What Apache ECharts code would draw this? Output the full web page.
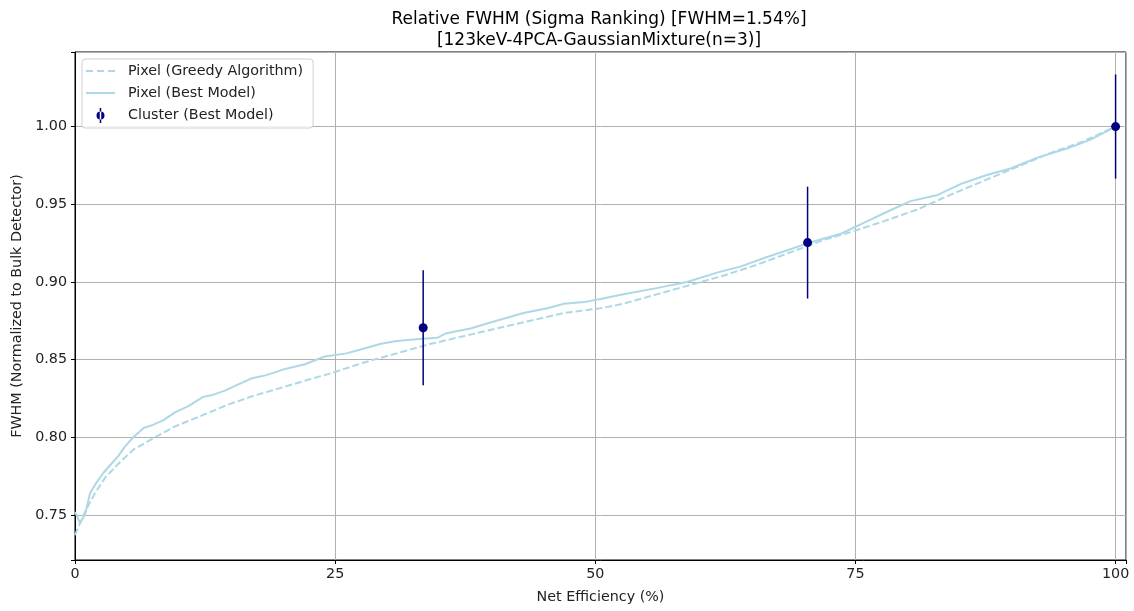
<!DOCTYPE html>
<html>
<head>
<meta charset="utf-8">
<script src="https://cdn.jsdelivr.net/npm/echarts@6/dist/echarts.min.js"></script>
<style>
  html, body { margin: 0; padding: 0; background: #fff; }
  #chart { width: 1134px; height: 611px; }
</style>
</head>
<body>
<div id="chart"></div>
<script>
// Pixel (Best Model), solid line
const bestX = [0, 0.48, 0.96, 1.44, 2.08, 2.72, 3.37, 4.17, 4.8, 5.6, 6.6, 7.5, 8.5, 9.6, 10.9, 12.3, 13.1, 14.4, 15.7, 17.0,
  18.4, 20.2, 22.1, 24.0, 26.1, 27.7, 29.3, 30.9, 32.5, 34.8, 35.7, 38.0, 40.5, 43.1, 45.4, 47.0, 48.9, 50.5, 52.7, 55.9,
  58.8, 61.7, 64.0, 66.5, 68.75, 70.45, 73.6, 76.1, 78.0, 80.3, 82.9, 85.1, 87.7, 89.9, 92.5, 95.4, 97.6, 100];
const bestY = [0.752, 0.745, 0.750, 0.764, 0.771, 0.777, 0.782, 0.788, 0.794, 0.800, 0.806, 0.808, 0.811, 0.816, 0.820, 0.826, 0.827, 0.830, 0.834, 0.838,
  0.840, 0.844, 0.847, 0.852, 0.854, 0.857, 0.860, 0.862, 0.863, 0.864, 0.867, 0.870, 0.875, 0.880, 0.883, 0.886, 0.887, 0.889, 0.892, 0.896,
  0.900, 0.906, 0.910, 0.916, 0.921, 0.925, 0.931, 0.939, 0.945, 0.952, 0.956, 0.963, 0.969, 0.973, 0.980, 0.986, 0.9916, 1.0];

// Pixel (Greedy Algorithm), dashed line
const greedyX = [0, 0.96, 1.92, 2.9, 4.17, 5.6, 7.7, 9.6, 12.2, 14.7, 17.3, 19.9, 22.4, 24.5, 27.7, 30.9, 34.1, 37.3, 40.5, 43.75,
  47.0, 50.5, 52.7, 55.9, 59.1, 62.3, 65.5, 68.75, 71.95, 74.5, 77.7, 80.9, 84.1, 87.3, 90.5, 93.75, 96.9, 100];
const greedyY = [0.737, 0.752, 0.764, 0.774, 0.783, 0.792, 0.800, 0.807, 0.814, 0.821, 0.827, 0.832, 0.837, 0.841, 0.848, 0.854, 0.860, 0.865, 0.870, 0.875,
  0.880, 0.883, 0.886, 0.892, 0.898, 0.904, 0.911, 0.919, 0.927, 0.932, 0.939, 0.9465, 0.956, 0.965, 0.974, 0.983, 0.9905, 1.0];

// Cluster (Best Model), points with error bars
const clusterX = [33.46, 70.4, 100];
const clusterY = [0.8705, 0.9253, 1.0];
const clusterErr = [0.037, 0.036, 0.0335];

const xTicks = [0, 25, 50, 75, 100];
const yTicks = [0.75, 0.80, 0.85, 0.90, 0.95, 1.00];

const FONT = "DejaVu Sans";
const pairs = (xs, ys) => xs.map((x, i) => [x, ys[i]]);
const isTick = (v, list) => list.some(t => Math.abs(t - v) < 1e-6);

const chart = echarts.init(document.getElementById("chart"));
chart.setOption({
  animation: false,
  backgroundColor: "#fff",
  textStyle: { fontFamily: FONT },
  title: {
    text: "Relative FWHM (Sigma Ranking) [FWHM=1.54%]\n[123keV-4PCA-GaussianMixture(n=3)]",
    left: 594,
    textAlign: "center",
    top: 4,
    textStyle: { fontFamily: FONT, fontSize: 17, fontWeight: "normal", color: "#000", lineHeight: 21 }
  },
  grid: {
    left: 75, right: 8, top: 52, bottom: 51,
    show: true, borderColor: "#000", borderWidth: 1
  },
  legend: {
    orient: "vertical",
    left: 82, top: 59,
    backgroundColor: "rgba(255,255,255,0.85)",
    borderColor: "#d0d0d0", borderWidth: 1, borderRadius: 3,
    padding: [5, 10, 5, 4],
    itemWidth: 29, itemHeight: 15, itemGap: 8,
    textStyle: { fontFamily: FONT, fontSize: 14.3, color: "#222", padding: [0, 0, 0, 8] },
    data: [
      { name: "Pixel (Greedy Algorithm)", icon: "path://M0,0 h7 v2 h-7 z M11,0 h7 v2 h-7 z M22,0 h7 v2 h-7 z" },
      { name: "Pixel (Best Model)", icon: "path://M0,0 h29 v2 h-29 z" },
      { name: "Cluster (Best Model)", icon: "path://M4.25,0 h1.5 v15 h-1.5 z M5,3.5 A4,4 0 1 0 5.001,3.5 Z" }
    ]
  },
  xAxis: {
    type: "value",
    min: 0, max: 101,
    interval: 25,
    name: "Net Efficiency (%)",
    nameLocation: "middle",
    nameGap: 30,
    nameTextStyle: { fontFamily: FONT, fontSize: 14.3, color: "#222" },
    axisLine: { show: true, lineStyle: { color: "#000", width: 1 } },
    axisTick: { show: true, inside: false, length: 4, lineStyle: { color: "#000" } },
    axisLabel: {
      margin: 7, fontFamily: FONT, fontSize: 14.3, color: "#222",
      formatter: v => isTick(v, xTicks) ? String(v) : ""
    },
    splitLine: { show: true, lineStyle: { color: "#b0b0b0", width: 1 } }
  },
  yAxis: {
    type: "value",
    min: 0.721, max: 1.048,
    splitNumber: 6, minInterval: 0.05, maxInterval: 0.05,
    name: "FWHM (Normalized to Bulk Detector)",
    nameLocation: "middle",
    nameGap: 50,
    nameTextStyle: { fontFamily: FONT, fontSize: 14.3, color: "#222" },
    axisLine: { show: true, lineStyle: { color: "#000", width: 1 } },
    axisTick: { show: true, inside: false, length: 4, lineStyle: { color: "#000" } },
    axisLabel: {
      margin: 8, fontFamily: FONT, fontSize: 14.3, color: "#222",
      formatter: v => isTick(v, yTicks) ? v.toFixed(2) : ""
    },
    splitLine: { show: true, lineStyle: { color: "#b0b0b0", width: 1 } }
  },
  series: [
    {
      name: "Pixel (Greedy Algorithm)",
      type: "line",
      data: pairs(greedyX, greedyY),
      symbol: "none",
      lineStyle: { color: "#add8e6", width: 2, type: [7, 3] },
      itemStyle: { color: "#add8e6" },
      z: 2
    },
    {
      name: "Pixel (Best Model)",
      type: "line",
      data: pairs(bestX, bestY),
      symbol: "none",
      lineStyle: { color: "#add8e6", width: 2 },
      itemStyle: { color: "#add8e6" },
      z: 3
    },
    {
      name: "Cluster (Best Model)",
      type: "custom",
      data: clusterX.map((x, i) => [x, clusterY[i] - clusterErr[i], clusterY[i] + clusterErr[i]]),
      renderItem: (params, api) => {
        const lo = api.coord([api.value(0), api.value(1)]);
        const hi = api.coord([api.value(0), api.value(2)]);
        return {
          type: "line",
          shape: { x1: lo[0], y1: lo[1], x2: hi[0], y2: hi[1] },
          style: { stroke: "#000080", lineWidth: 1.5 }
        };
      },
      itemStyle: { color: "#000080" },
      clip: false,
      z: 4
    },
    {
      name: "Cluster (Best Model)",
      type: "scatter",
      data: pairs(clusterX, clusterY),
      symbol: "circle",
      symbolSize: 9,
      itemStyle: { color: "#000080", opacity: 1 },
      clip: false,
      z: 5
    }
  ]
});
</script>
</body>
</html>
